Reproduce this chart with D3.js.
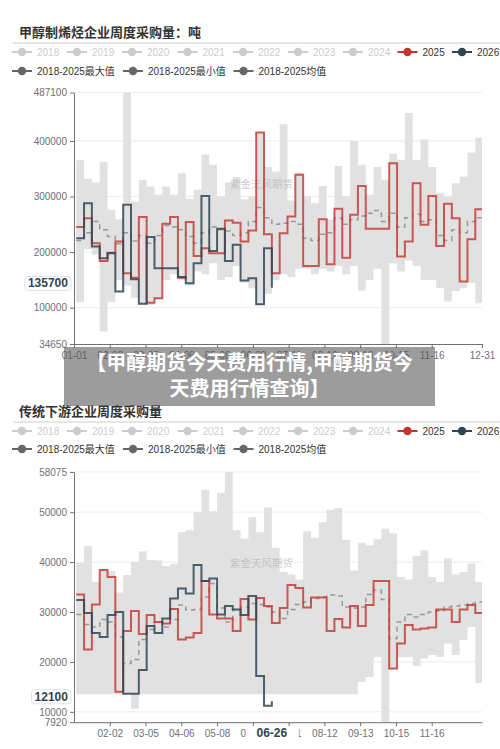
<!DOCTYPE html>
<html><head><meta charset="utf-8">
<script src="https://cdn.jsdelivr.net/npm/d3@7"></script>
<style>
body{margin:0;background:#fff}
svg text{font-family:"Liberation Sans","Noto Sans CJK SC",sans-serif}
</style>
</head><body>
<svg id="c" width="500" height="749"></svg>
<script>
// ---------- data ----------
const legendYears = ["2018","2019","2020","2021","2022","2023","2024","2025","2026"];
const legendStats = ["2018-2025最大值","2018-2025最小值","2018-2025均值"];
const titles = ["甲醇制烯烃企业周度采购量：吨","传统下游企业周度采购量"];
const watermark = "紫金天风期货";
const overlayLines = ["【甲醇期货今天费用行情,甲醇期货今","天费用行情查询】"];

const topXTicks = ["01-01","02-02","03-05","04-06","05-08","06-09","07-11","08-12","09-13","10-15","11-16","12-31"];
const botXTicks = ["02-02","03-05","04-06","05-08","06-09","07-11","08-12","09-13","10-15","11-16"];
const topYTicks = [34650,100000,200000,300000,400000,487100];
const botYTicks = [7920,10000,20000,30000,40000,50000,58075];

const top2025 = [245000,261000,216000,184000,199000,219000,162000,154000,263000,109000,
  117000,251000,263000,154000,254000,193000,207000,198000,198000,257000,
  253000,219000,239000,415000,232000,162000,234000,264000,339000,175000,
  175000,259000,178000,278000,190000,267000,319000,242000,242000,242000,
  360000,192000,219000,324000,249000,301000,211000,287000,261000,147000,
  223000,277000,277000];
const top2026 = [225000,288000,210000,189000,198000,129000,285000,151000,107000,227000,
  171000,171000,171000,155000,144000,180000,301000,202000,242000,184000,
  213000,149000,153000,106000,207000,135700];
const topMax = [365000,332000,325000,362000,276000,259000,487100,291000,330000,318000,
  303000,318000,303000,342000,296000,312000,375000,357000,300000,325000,
  335000,295000,300000,415000,353000,345000,430000,293000,343000,300000,
  288000,319000,258000,355000,300000,400000,357000,303000,353000,330000,
  377000,366000,450000,366000,403000,353000,306000,300000,324000,336000,
  379000,406000,406000];
const topMin = [110000,205000,195000,57000,110000,150000,140000,118000,105000,105000,
  115000,150000,160000,150000,140000,165000,160000,180000,150000,155000,
  175000,145000,135000,105000,125000,150000,160000,155000,170000,170000,
  160000,170000,165000,175000,160000,175000,131000,150000,170000,34650,
  180000,165000,185000,175000,150000,150000,135000,111000,130000,135000,
  145000,108000,108000];
const topMean = [221000,235000,255000,240000,228000,215000,235000,220000,230000,216000,
  230000,248000,245000,240000,228000,216000,235000,245000,240000,238000,
  230000,235000,255000,280000,262000,250000,252000,255000,250000,225000,
  221000,232000,235000,261000,250000,258000,265000,270000,275000,255000,
  270000,245000,262000,268000,255000,258000,230000,221000,240000,235000,
  255000,262000,262000];

const bot2025 = [33500,22500,31500,38400,37000,14000,26200,30200,25600,29400,
  28000,27700,30600,24500,24900,25800,36200,29500,28700,28700,
  26200,32600,28500,32800,31200,27800,30800,35400,34800,30900,
  32900,32900,26200,28600,26900,31200,27200,31400,36200,36200,
  18700,23700,27400,26500,26700,26900,30500,30500,28000,30500,
  31400,29800,29800];
const bot2026 = [32400,29800,25800,25000,29400,30000,13600,13600,18400,27200,
  25800,28700,32700,34700,33700,39400,36200,36700,29500,31200,
  30500,29400,33200,17200,11200,12100];
const botMax = [39800,43200,36000,38500,38200,33900,37400,40000,42200,40400,
  40300,39200,39600,46000,46400,50000,54500,50200,53900,58075,
  46400,44700,49000,46000,51000,42900,38000,37500,36500,46200,
  44900,48000,50500,50800,44500,38300,43900,43400,44600,46700,
  45800,37000,36500,41200,42400,37000,36000,40700,37500,38000,
  39700,36000,36000];
const botMin = [13500,13500,13500,13500,13500,13500,13500,10600,13500,13500,
  13500,13500,13500,13500,13500,13500,13500,13500,13500,13500,
  13500,13500,13500,13500,13500,13500,13500,13500,13500,13500,
  13500,13500,13500,13500,13500,13500,16000,17000,21000,7920,
  18500,21000,21000,19200,20700,21400,21000,23700,21400,24400,
  27000,15800,15800];
const botMean = [29500,27500,27000,28500,28000,25000,19700,20500,24500,26500,
  28000,27000,28500,31400,30400,30500,33000,35700,30800,28000,
  30500,31000,31700,31500,31000,30000,28700,30500,31500,32000,
  32700,33000,33400,33200,31000,30800,31000,33500,34400,32500,
  24700,28000,29500,29000,29500,30000,30200,31000,31200,31400,
  31700,32000,32000];

const pointerTop = {y:135700};
const pointerBot = {y:12100, x:"06-26"};

// ---------- categories (MM-DD of a leap year) ----------
const monthDays = [31,29,31,30,31,30,31,31,30,31,30,31];
const categories = [];
monthDays.forEach((n,m)=>{for(let d=1;d<=n;d++)categories.push(String(m+1).padStart(2,"0")+"-"+String(d).padStart(2,"0"));});
const weekDates = d3.range(53).map(j=>categories[Math.min(7*j+2,365)]);

const RED="#c23531", NAVY="#2f4554", AXIS="#6E7079";
const svg = d3.select("#c");
const x = d3.scalePoint().domain(categories).range([74,482]);

function legend(y1,y2){
  const g = svg.append("g");
  const cx1=[22,77,132,187.5,243,298,353,407.5,462];
  legendYears.forEach((t,i)=>{
    const col = t==="2025"?RED:(t==="2026"?NAVY:"#ccc");
    const tc = (t==="2025"||t==="2026")?"#333":"#ccc";
    g.append("line").attr("x1",cx1[i]-10).attr("x2",cx1[i]+10).attr("y1",y1).attr("y2",y1).attr("stroke",col).attr("stroke-width",2);
    g.append("circle").attr("cx",cx1[i]).attr("cy",y1).attr("r",4.2).attr("fill",col);
    g.append("text").attr("x",cx1[i]+15).attr("y",y1).attr("dominant-baseline","central").attr("font-size",10).attr("fill",tc).text(t);
  });
  const cx2=[22,133,243.5];
  legendStats.forEach((t,i)=>{
    g.append("line").attr("x1",cx2[i]-10).attr("x2",cx2[i]+10).attr("y1",y2).attr("y2",y2).attr("stroke","#666").attr("stroke-width",2);
    g.append("circle").attr("cx",cx2[i]).attr("cy",y2).attr("r",4.2).attr("fill","#666");
    g.append("text").attr("x",cx2[i]+15).attr("y",y2).attr("dominant-baseline","central").attr("font-size",10).attr("fill","#333").text(t);
  });
}

function chart(o){
  const y = d3.scaleLinear().domain(o.domain).range([o.bottom,o.top]);
  svg.append("text").attr("x",19).attr("y",o.titleY).attr("dominant-baseline","central")
    .attr("font-size",13).attr("font-weight","bold").attr("fill","#333")
    .style("font-family","'Noto Sans CJK SC',sans-serif").text(o.title);
  svg.append("line").attr("x1",13).attr("x2",500).attr("y1",o.sepY).attr("y2",o.sepY).attr("stroke","#ccc");
  legend(o.legY1,o.legY2);
  // grid
  svg.append("g").selectAll("line").data(o.yTicks.slice(1)).join("line")
    .attr("x1",74).attr("x2",482).attr("y1",d=>y(d)).attr("y2",d=>y(d)).attr("stroke","#ececec");
  const band = weekDates.map((d,i)=>({d,min:o.min[i],max:o.max[i]}));
  svg.append("path").datum(band).attr("fill","#e1e1e1")
    .attr("d",d3.area().curve(d3.curveStepAfter).x(d=>x(d.d)).y0(d=>y(d.min)).y1(d=>y(d.max)));
  // watermark
  svg.append("text").attr("x",230).attr("y",o.wmY).attr("dominant-baseline","central")
    .attr("font-size",10.5).attr("fill","#b4b4b4").attr("fill-opacity",0.7).text(watermark);
  const line = d3.line().curve(d3.curveStepAfter).x(d=>x(d.d)).y(d=>y(d.v));
  const mk = arr=>arr.map((v,i)=>({d:weekDates[i],v}));
  svg.append("path").datum(mk(o.mean)).attr("fill","none").attr("stroke","#999").attr("stroke-width",1.5)
    .attr("stroke-dasharray","5,4").attr("d",line);
  svg.append("path").datum(mk(o.s2025)).attr("fill","none").attr("stroke",RED).attr("stroke-opacity",0.8).attr("stroke-width",2).attr("d",line);
  svg.append("path").datum(mk(o.s2026)).attr("fill","none").attr("stroke",NAVY).attr("stroke-opacity",0.85).attr("stroke-width",2).attr("d",line);
  // axes
  const ya = svg.append("g").attr("transform","translate(74,0)")
    .call(d3.axisLeft(y).tickValues(o.yTicks).tickFormat(d3.format("d")).tickSize(4).tickSizeOuter(0).tickPadding(3));
  const xa = svg.append("g").attr("transform",`translate(0,${o.bottom})`)
    .call(d3.axisBottom(x).tickValues(o.xTicks).tickSize(4).tickSizeOuter(0).tickPadding(4));
  [ya,xa].forEach(a=>{
    a.select(".domain").attr("stroke",AXIS);
    a.selectAll(".tick line").attr("stroke",AXIS);
    a.selectAll(".tick text").attr("fill",AXIS).attr("font-size",10).style("font-family","'Liberation Sans',sans-serif");
  });
  // y pointer label
  const py = y(o.pointerY)-4.5;
  const lab = String(o.pointerY);
  const w = lab.length*6.7+6;
  svg.append("rect").attr("x",71-w).attr("y",py-7).attr("width",w).attr("height",14).attr("rx",3)
    .attr("fill","#fff").attr("stroke","#e0e0e0");
  svg.append("text").attr("x",71-w/2).attr("y",py).attr("text-anchor","middle").attr("dominant-baseline","central")
    .attr("font-size",12).attr("font-weight","bold").attr("fill","#2f4554").text(lab);
  if(o.pointerX){
    const px = x(o.pointerX);
    svg.append("rect").attr("x",px-26).attr("y",o.bottom+4.5).attr("width",53).attr("height",17).attr("fill","#fff");
    svg.append("text").attr("x",px).attr("y",o.bottom+11).attr("text-anchor","middle").attr("dominant-baseline","central")
      .attr("font-size",12).attr("font-weight","bold").attr("fill","#2f4554").text(o.pointerX);
  }
}

chart({title:titles[0],titleY:31,sepY:43,legY1:52,legY2:71,domain:[34650,487100],top:92.5,bottom:344,
  yTicks:topYTicks,xTicks:topXTicks,wmY:184,min:topMin,max:topMax,mean:topMean,s2025:top2025,s2026:top2026,
  pointerY:pointerTop.y});
chart({title:titles[1],titleY:410,sepY:422,legY1:431,legY2:449,domain:[7920,58075],top:471.9,bottom:722.2,
  yTicks:botYTicks,xTicks:botXTicks,wmY:563,min:botMin,max:botMax,mean:botMean,s2025:bot2025,s2026:bot2026,
  pointerY:pointerBot.y,pointerX:pointerBot.x});

// overlay banner
svg.append("rect").attr("x",64).attr("y",347).attr("width",371).attr("height",59).attr("fill","rgba(85,85,85,0.58)");
overlayLines.forEach((t,i)=>{
  svg.append("text").attr("x",249.5).attr("y",361+i*26).attr("text-anchor","middle").attr("dominant-baseline","central")
    .attr("font-size",20).attr("font-weight","bold").attr("fill","#fff")
    .style("font-family","'Noto Sans CJK SC',sans-serif").text(t);
});
</script>
</body></html>
